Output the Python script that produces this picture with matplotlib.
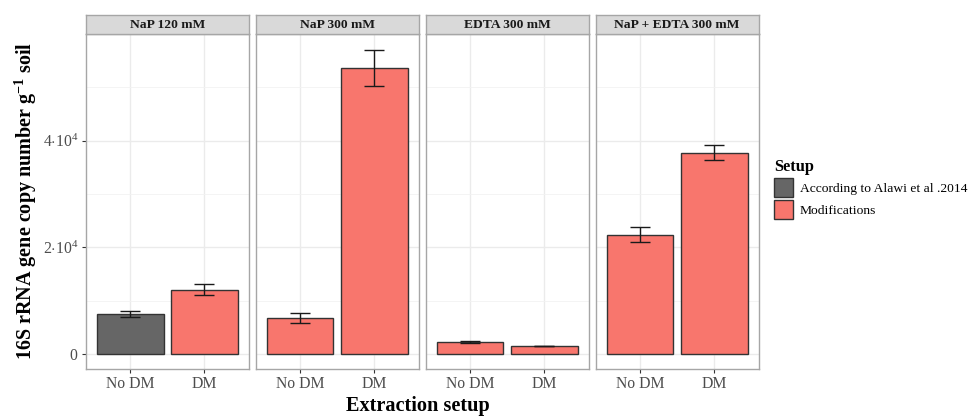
import matplotlib
matplotlib.use("Agg")
import matplotlib.pyplot as plt
from matplotlib.patches import Patch
import numpy as np

plt.rcParams['font.family'] = ['Liberation Serif', 'DejaVu Serif']
plt.rcParams['mathtext.fontset'] = 'custom'
plt.rcParams['mathtext.rm'] = 'Liberation Serif'
plt.rcParams['mathtext.bf'] = 'Liberation Serif:bold'
plt.rcParams['mathtext.it'] = 'Liberation Serif:italic'

facets = ["NaP 120 mM", "NaP 300 mM", "EDTA 300 mM", "NaP + EDTA 300 mM"]
categories = ["No DM", "DM"]
means = [[7500, 12100], [6800, 53700], [2300, 1500], [22400, 37750]]
errors = [[550, 1000], [900, 3400], [150, 50], [1350, 1430]]
setups = [["According to Alawi et al .2014", "Modifications"],
          ["Modifications", "Modifications"],
          ["Modifications", "Modifications"],
          ["Modifications", "Modifications"]]
setup_levels = ["According to Alawi et al .2014", "Modifications"]
setup_colors = {"According to Alawi et al .2014": "#666666", "Modifications": "#F8766D"}
yticks = [0, 20000, 40000]
yticklabels = [r"$0$", r"$2{\cdot}10^4$", r"$4{\cdot}10^4$"]

W, H = 969, 416
fig = plt.figure(figsize=(W / 100, H / 100), dpi=100)

panel_lefts = [85.7, 255.5, 425.5, 595.5]
pw = 163.2
ptop, pbot = 34.3, 369.3
stop = 14.7

ymax_data = max(m + e for mm, ee in zip(means, errors) for m, e in zip(mm, ee))
ylim = (-0.05 * ymax_data, 1.05 * ymax_data)
border = "#A6A6A6"

for i, f in enumerate(facets):
    l = panel_lefts[i]
    ax = fig.add_axes([l / W, 1 - pbot / H, pw / W, (pbot - ptop) / H])
    x = np.arange(1, len(categories) + 1)
    cols = [setup_colors[s] for s in setups[i]]
    ax.set_axisbelow(True)
    ax.bar(x, means[i], width=0.9, color=cols, edgecolor="#333333", linewidth=1.0, zorder=2)
    ax.errorbar(x, means[i], yerr=errors[i], fmt='none', ecolor="#1a1a1a",
                elinewidth=1.0, capsize=7.5, capthick=1.0, zorder=3)
    ax.set_xlim(0.4, 2.6)
    ax.set_ylim(*ylim)
    ax.set_xticks(x)
    ax.set_xticklabels(categories, fontsize=11.3, color="#4D4D4D")
    ax.set_yticks(yticks)
    ax.set_yticks([10000, 30000, 50000], minor=True)
    ax.grid(True, which='major', color="#EBEBEB", linewidth=1.0)
    ax.grid(True, which='minor', axis='y', color="#F2F2F2", linewidth=0.6)
    ax.tick_params(axis='x', which='major', length=3, color="#333333", pad=2)
    ax.tick_params(axis='y', which='minor', length=0)
    if i == 0:
        ax.set_yticklabels(yticklabels, fontsize=11.3, color="#4D4D4D")
        ax.tick_params(axis='y', which='major', length=3, color="#333333", pad=2)
    else:
        ax.tick_params(axis='y', which='major', length=0, labelleft=False)
    for s in ax.spines.values():
        s.set_color(border)
        s.set_linewidth(1.0)
    # strip
    sax = fig.add_axes([l / W, 1 - ptop / H, pw / W, (ptop - stop) / H])
    sax.set_xticks([]); sax.set_yticks([])
    sax.set_facecolor("#D9D9D9")
    for s in sax.spines.values():
        s.set_color(border)
        s.set_linewidth(1.0)
    sax.text(0.5, 0.5, f, ha='center', va='center', fontsize=9.7, fontweight='bold',
             color="#1A1A1A", transform=sax.transAxes)

fig.text(26 / W, 1 - 201 / H, r"16S rRNA gene copy number g$^{\mathbf{-1}}$ soil",
         rotation=90, ha='center', va='center', fontsize=14.5, fontweight='bold')
fig.text(418 / W, 1 - 406 / H, "Extraction setup", ha='center', va='center',
         fontsize=14.6, fontweight='bold')

handles = [Patch(facecolor=setup_colors[s], edgecolor="#333333", linewidth=1.0) for s in setup_levels]
leg = fig.legend(handles, setup_levels, title="Setup", loc='upper left',
                 bbox_to_anchor=(774 / W, 1 - 159 / H), frameon=False,
                 fontsize=9.7, title_fontsize=11.8, handlelength=1.4, handleheight=1.75,
                 handletextpad=0.5, labelspacing=0.25, borderaxespad=0, borderpad=0)
leg.get_title().set_fontweight('bold')
leg._legend_box.align = "left"

fig.savefig("out.png", dpi=100)
